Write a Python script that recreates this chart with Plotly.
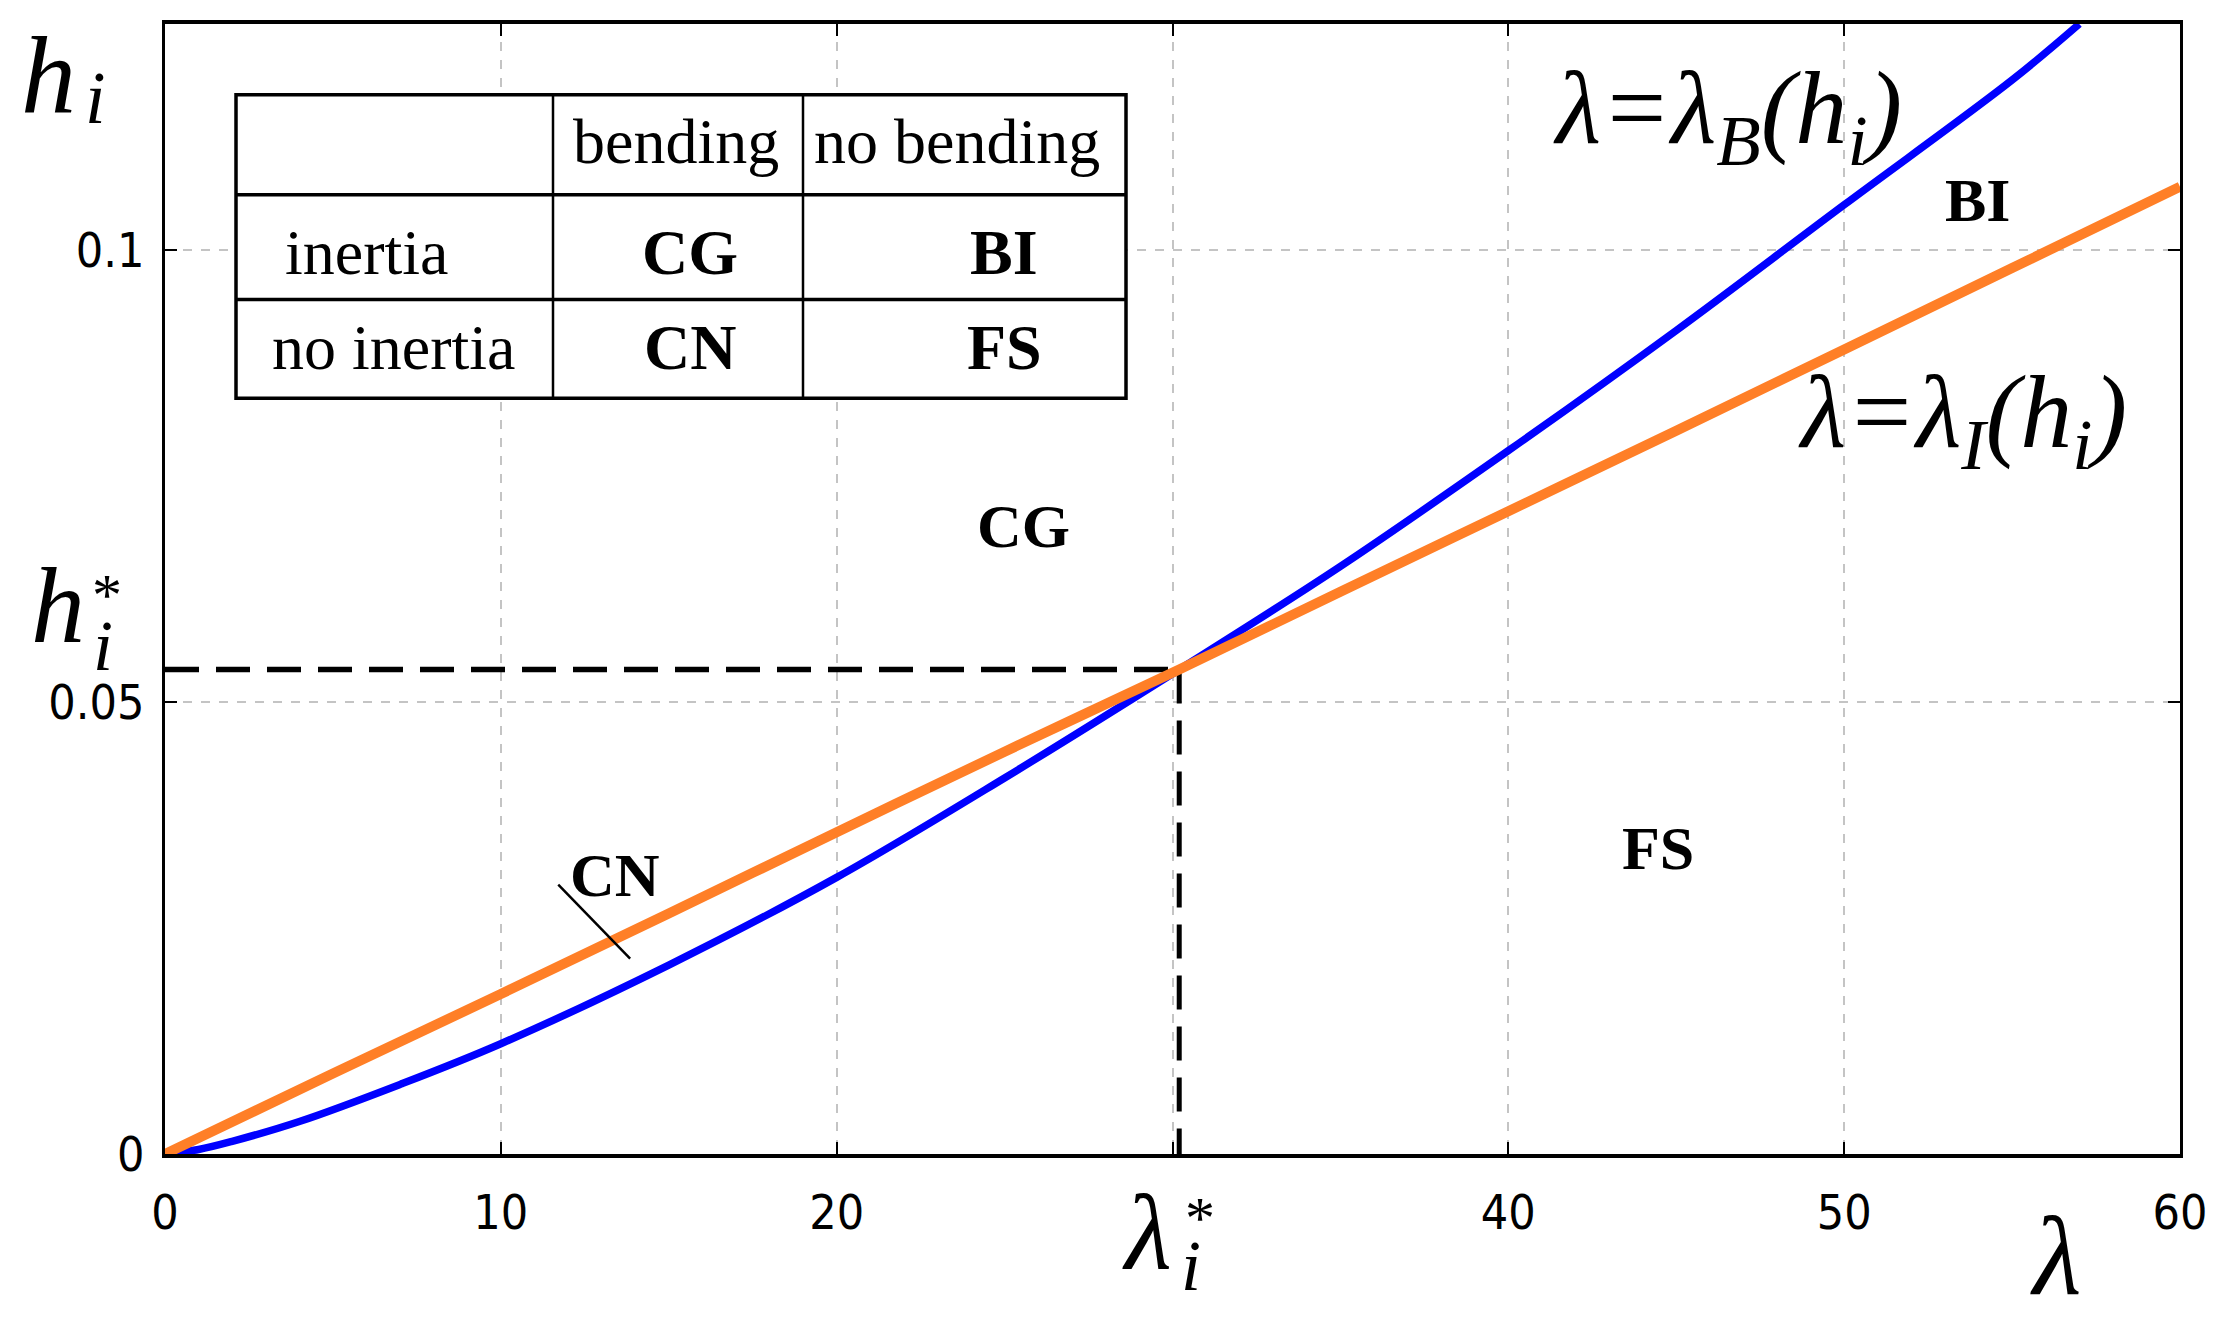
import plotly.graph_objects as go

# ---------------- data ----------------
lam_B = [0, 1, 2, 4, 7, 10, 15, 20, 25, 30.2, 35, 40, 45, 50, 55, 57]
h_B = [0, 0.0005, 0.0014, 0.0036, 0.0077, 0.0122, 0.0209, 0.0306, 0.0416, 0.0536,
       0.0650, 0.0778, 0.0911, 0.1050, 0.1188, 0.125]

lam_I = [0, 5, 10, 15, 20, 25, 30.2, 35, 40, 45, 50, 55, 60]
h_I = [0, 0.0089, 0.0177, 0.0266, 0.0356, 0.0445, 0.0536, 0.0622, 0.0711,
       0.0800, 0.0890, 0.0980, 0.1070]

lam_star = 30.2
h_star = 0.0536

x_tickvals = [0, 10, 20, 30, 40, 50, 60]
x_ticktext = ["0", "10", "20", "", "40", "50", "60"]
y_tickvals = [0, 0.05, 0.1]
y_ticktext = ["0", "0.05", "0.1"]

col_labels = ["", "bending", "no bending"]
row_labels = ["inertia", "no inertia"]
cell_text = [["CG", "BI"], ["CN", "FS"]]

region_labels = ["CG", "FS", "BI", "CN"]

# ---------------- figure geometry (pixels, page coordinates) ----------------
OFF = 8                      # page body margin
W, H = 2226 - OFF, 1326 - OFF
PL, PR, PT, PB = 165, 2180, 22, 1154


def px(x):
    return (x - PL) / (PR - PL)


def py(y):
    return (PB - y) / (PB - PT)


SERIF = "Liberation Serif, Times New Roman, serif"
TICKF = "DejaVu Sans Condensed, Liberation Sans Narrow, Roboto Condensed, sans-serif"

fig = go.Figure()

# dashed guide lines at the crossing point
fig.add_trace(go.Scatter(x=[0, lam_star], y=[h_star, h_star], mode="lines",
                         line=dict(color="black", width=5.5, dash="34px,17px"),
                         hoverinfo="skip", showlegend=False))
fig.add_trace(go.Scatter(x=[lam_star, lam_star], y=[h_star, 0], mode="lines",
                         line=dict(color="black", width=5, dash="34px,17px"),
                         hoverinfo="skip", showlegend=False))

fig.add_trace(go.Scatter(x=lam_B, y=h_B, mode="lines",
                         line=dict(color="#0000ff", width=7.5, shape="spline", smoothing=1.0),
                         showlegend=False))
fig.add_trace(go.Scatter(x=lam_I, y=h_I, mode="lines",
                         line=dict(color="#ff7f27", width=10, shape="spline", smoothing=1.0),
                         showlegend=False))

ann = []


def add_text(text, x, y, size, bold=False, italic=False, family=SERIF, xanchor="center"):
    t = text
    if bold:
        t = "<b>" + t + "</b>"
    if italic:
        t = "<i>" + t + "</i>"
    ann.append(dict(text=t, x=px(x), y=py(y), xref="paper", yref="paper",
                    xanchor=xanchor, yanchor="middle", showarrow=False,
                    font=dict(family=family, size=size, color="black")))


# axis symbols
add_text("h", 48, 74, 110, italic=True)
add_text("i", 95, 96, 74, italic=True)
add_text("h", 58, 605, 108, italic=True)
add_text("*", 107, 594, 60)
add_text("i", 103, 645, 72, italic=True)
add_text("λ", 1147, 1233, 108, italic=True)
add_text("*", 1200, 1218, 60)
add_text("i", 1191, 1266, 72, italic=True)
add_text("λ", 2056, 1256, 112, italic=True)

# curve labels
add_text("λ=λ<sub>B</sub>(h<sub>i</sub>)", 1727, 114, 104, italic=True)
add_text("λ=λ<sub>I</sub>(h<sub>i</sub>)", 1962, 418, 104, italic=True)

# region labels
region_pos = {"CG": (1023, 525), "FS": (1658, 847), "BI": (1977, 198), "CN": (615, 875)}
for lab in region_labels:
    x, y = region_pos[lab]
    add_text(lab, x, y, 62, bold=True)

# table
tx = [236, 553, 803, 1126]
ty = [93, 193, 298, 397]
shapes = [dict(type="rect", xref="paper", yref="paper",
               x0=px(tx[0]), x1=px(tx[-1]), y0=py(ty[0]), y1=py(ty[-1]),
               fillcolor="white", line=dict(color="black", width=3.5), layer="above")]
for xv in tx[1:-1]:
    shapes.append(dict(type="line", xref="paper", yref="paper", x0=px(xv), x1=px(xv),
                       y0=py(ty[0]), y1=py(ty[-1]), line=dict(color="black", width=2.5),
                       layer="above"))
for yv in ty[1:-1]:
    shapes.append(dict(type="line", xref="paper", yref="paper", x0=px(tx[0]), x1=px(tx[-1]),
                       y0=py(yv), y1=py(yv), line=dict(color="black", width=3.5),
                       layer="above"))

head_x = [394, 676, 957]
for lab, x in zip(col_labels, head_x):
    if lab:
        add_text(lab, x, 140, 64)
row_y = [251, 346]
row_x = [366, 393]
for lab, x, y in zip(row_labels, row_x, row_y):
    add_text(lab, x, y, 64)
cell_x = [690, 1004]
for r, row in enumerate(cell_text):
    for c, lab in enumerate(row):
        add_text(lab, cell_x[c], row_y[r], 64, bold=True)

# CN pointer line
shapes.append(dict(type="line", xref="x", yref="y", x0=11.71, y0=0.0298, x1=13.85, y1=0.0216,
                   line=dict(color="black", width=2.5)))

fig.update_layout(
    width=W, height=H, autosize=False,
    margin=dict(l=PL - OFF, r=2226 - PR, t=PT - OFF, b=1326 - PB, pad=0),
    paper_bgcolor="white", plot_bgcolor="white",
    annotations=ann, shapes=shapes, showlegend=False,
    xaxis=dict(range=[0, 60], tickvals=x_tickvals, ticktext=x_ticktext,
               showgrid=True, gridcolor="#c4c4c4", gridwidth=1.5, griddash="dash",
               showline=True, linecolor="black", linewidth=3.5, mirror="ticks",
               ticks="inside", ticklen=12, tickwidth=2, tickcolor="black",
               ticklabelstandoff=14, zeroline=False,
               tickfont=dict(family=TICKF, size=48, color="black")),
    yaxis=dict(range=[0, 0.125], tickvals=y_tickvals, ticktext=y_ticktext,
               showgrid=True, gridcolor="#c4c4c4", gridwidth=1.5, griddash="dash",
               showline=True, linecolor="black", linewidth=3, mirror="ticks",
               ticks="inside", ticklen=12, tickwidth=2, tickcolor="black",
               ticklabelstandoff=8, zeroline=False,
               tickfont=dict(family=TICKF, size=48, color="black")),
)

fig.write_html("out.html")
